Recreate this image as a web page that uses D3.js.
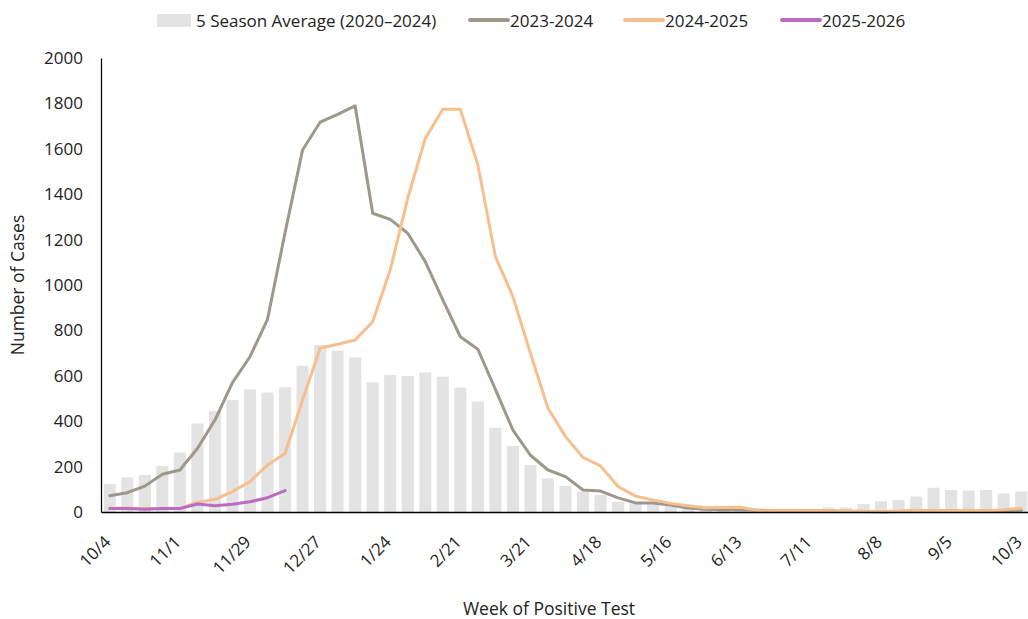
<!DOCTYPE html>
<html>
<head>
<meta charset="utf-8">
<script src="https://cdn.jsdelivr.net/npm/d3@7"></script>
<style>
  html, body { margin: 0; padding: 0; background: #fff; }
  svg { display: block; font-family: "Open Sans", "Noto Sans", sans-serif; }
</style>
</head>
<body>
<svg id="chart" width="1028" height="619"></svg>
<script>
const weeks = ["10/4","10/11","10/18","10/25","11/1","11/8","11/15","11/22","11/29","12/6","12/13","12/20","12/27","1/3","1/10","1/17","1/24","1/31","2/7","2/14","2/21","2/28","3/7","3/14","3/21","3/28","4/4","4/11","4/18","4/25","5/2","5/9","5/16","5/23","5/30","6/6","6/13","6/20","6/27","7/4","7/11","7/18","7/25","8/1","8/8","8/15","8/22","8/29","9/5","9/12","9/19","9/26","10/3"];
const tickLabels = ["10/4","11/1","11/29","12/27","1/24","2/21","3/21","4/18","5/16","6/13","7/11","8/8","9/5","10/3"];
const yTicks = [0,200,400,600,800,1000,1200,1400,1600,1800,2000];

const avg5 = [123,153,163,203,262,390,445,493,540,526,549,644,736,711,681,571,604,599,615,596,548,487,371,291,207,148,115,90,75,45,38,38,31,22,18,15,14,10,10,10,12,20,20,35,48,53,68,107,97,94,97,82,90];
const s2324 = [72,85,114,166,185,280,405,570,684,849,1230,1595,1717,1752,1789,1316,1289,1228,1103,934,772,717,540,361,250,185,156,97,92,62,40,40,31,18,12,10,10,8,6,5,5,4,3,2,0,2,3,4,5,5,6,6,8];
const s2425 = [16,16,15,15,17,42,56,90,134,207,258,493,721,739,758,838,1066,1382,1646,1774,1774,1529,1125,949,699,457,332,240,203,112,70,53,38,28,19,20,21,6,5,5,5,5,3,3,2,4,8,6,5,8,6,10,16];
const s2526 = [15,15,12,15,15,35,28,34,45,63,94];

const seriesNames = ["2023-2024","2024-2025","2025-2026"];
const seriesColors = ["#9d978c","#f7bf8e","#bb6cc2"];
const barName = "5 Season Average (2020\u20132024)";
const barColor = "#e3e3e3";

const svg = d3.select("#chart");
const mLeft = 101, mRight = 1030, mTop = 58, mBottom = 512;

const x = d3.scaleBand().domain(weeks).range([mLeft, mRight]).paddingInner(0.31).paddingOuter(0.155);
const y = d3.scaleLinear().domain([0, 2000]).range([mBottom, mTop]);
const cx = d => x(d) + x.bandwidth() / 2;

// bars
svg.append("g").selectAll("rect").data(avg5).join("rect")
  .attr("x", (d, i) => x(weeks[i]))
  .attr("width", x.bandwidth())
  .attr("y", d => y(d))
  .attr("height", d => y(0) - y(d))
  .attr("fill", barColor);

// lines
const line = d3.line().x((d, i) => cx(weeks[i])).y(d => y(d));
[s2324, s2425, s2526].forEach((s, k) => {
  svg.append("path").datum(s)
    .attr("d", line)
    .attr("fill", "none")
    .attr("stroke", seriesColors[k])
    .attr("stroke-width", 3)
    .attr("stroke-linejoin", "round")
    .attr("stroke-linecap", "round");
});

// y axis
const yAxis = svg.append("g").attr("transform", `translate(${mLeft},0)`)
  .call(d3.axisLeft(y).tickValues(yTicks).tickSize(0).tickPadding(18).tickFormat(d3.format("d")));
yAxis.select(".domain").attr("stroke", "#000").attr("stroke-width", 1.2);
yAxis.selectAll("text").attr("font-size", 17).attr("fill", "#222").attr("font-family", "Open Sans");

// x axis
const xAxis = svg.append("g").attr("transform", `translate(0,${mBottom})`)
  .call(d3.axisBottom(x).tickValues(tickLabels).tickSize(0).tickSizeOuter(0).tickFormat(d => d));
xAxis.select(".domain").attr("stroke", "#000").attr("stroke-width", 1.5);
xAxis.selectAll("text")
  .attr("font-size", 17).attr("fill", "#222").attr("font-family", "Open Sans")
  .attr("text-anchor", "end")
  .attr("dy", null).attr("y", 0)
  .attr("transform", "translate(2,31) rotate(-45)");

// axis titles
svg.append("text").attr("transform", "translate(24,285) rotate(-90)")
  .attr("text-anchor", "middle").attr("font-size", 17.5).attr("fill", "#222")
  .text("Number of Cases");
svg.append("text").attr("x", 549).attr("y", 615)
  .attr("text-anchor", "middle").attr("font-size", 17.5).attr("fill", "#222")
  .text("Week of Positive Test");

// legend
const lg = svg.append("g").attr("font-size", 17).attr("fill", "#222");
lg.append("rect").attr("x", 157).attr("y", 14).attr("width", 34).attr("height", 13).attr("fill", barColor);
lg.append("text").attr("x", 196).attr("y", 27).text(barName);
const lx = [470, 625, 782];
seriesNames.forEach((n, k) => {
  lg.append("line").attr("x1", lx[k]).attr("x2", lx[k] + 38).attr("y1", 20).attr("y2", 20)
    .attr("stroke", seriesColors[k]).attr("stroke-width", 4).attr("stroke-linecap", "round");
  lg.append("text").attr("x", lx[k] + 40).attr("y", 27).text(n);
});
</script>
</body>
</html>
